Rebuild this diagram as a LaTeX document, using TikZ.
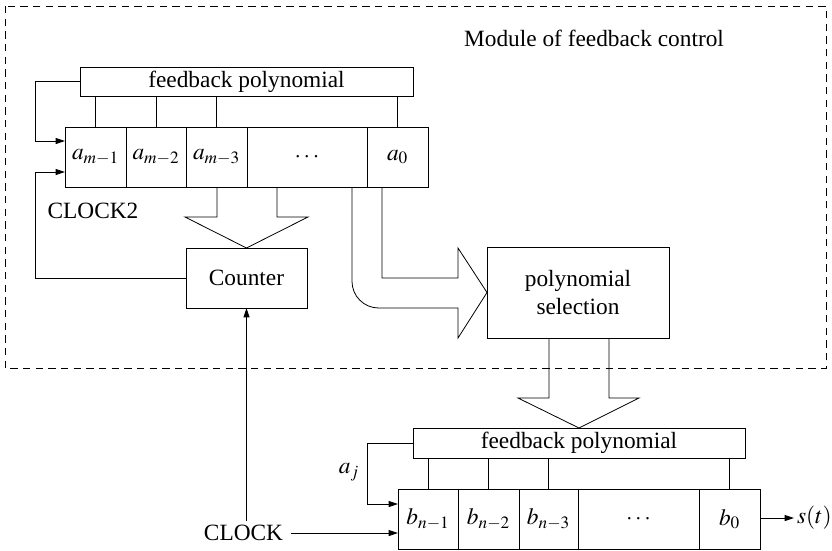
\documentclass[tikz,border=0pt]{standalone}
\usepackage{mathptmx}
\usepackage[no-math]{fontspec}
\setmainfont{Liberation Serif}
\newfontfamily\labelface{Liberation Serif}
\usetikzlibrary{arrows.meta,calc}

\begin{document}
\begin{tikzpicture}[x=0.75pt,y=-0.75pt,
  line width=0.6pt,
  every node/.style={font=\labelface\fontsize{17.5}{20.5}\selectfont},
  box/.style={draw,rectangle,inner sep=0pt,outer sep=0pt},
  cell/.style={box,minimum height=45pt},
  arr/.style={-{Triangle[length=7pt,width=4.5pt]}},
  fat/.style={line join=miter},
  module/.style={draw,dash pattern=on 5.5pt off 4pt,line width=0.5pt}
]
\useasboundingbox (0,0) rectangle (832,550);

% feedback-control module frame
\draw[module] (5,6) rectangle (826,368);
\node (mtitle) at (594,38) {Module of feedback control};

% upper feedback polynomial and register a
\node[box,minimum width=249.75pt,minimum height=21.75pt] (poly) at (246.5,81.5) {feedback polynomial};
\node[cell,minimum width=45.75pt] (am1) at (95.5,157) {$a_{m-1}$};
\node[cell,minimum width=45pt]    (am2) at (156,157)  {$a_{m-2}$};
\node[cell,minimum width=45.75pt] (am3) at (216.5,157) {$a_{m-3}$};
\node[cell,minimum width=90pt]    (adt) at (307,157)  {$\cdots$};
\node[cell,minimum width=45.75pt] (a0)  at (397.5,157) {$a_0$};

\foreach \c in {am1,am2,am3,a0}
  \draw (\c.north) -- (\c.north |- poly.south);

\coordinate (lfb) at (35,0);
\draw[arr] (poly.west) -- (poly.west -| lfb) |- ($(am1.north west)+(0,14)$);

\node (clk2) at (93,211) {CLOCK2};

% counter
\node[box,minimum width=90.75pt,minimum height=45pt] (counter) at (246.5,278) {Counter};
\draw[arr] (counter.west) -- (counter.west -| lfb) |- ($(am1.south west)+(0,-15)$);

% wide arrow: register -> counter
\draw[fat] (217,187) -- (217,217) -- (185,217) -- (counter.north) -- (308,217) -- (277,217) -- (277,187);

% polynomial selection
\node[box,minimum width=136.5pt,minimum height=68.25pt,align=center] (sel) at (578,292.5) {polynomial\\selection};

% wide bent arrow: register -> selection
\draw[fat] (352,187) [rounded corners=20pt] -- (352,308) [sharp corners] -- (458,308) -- (458,338)
  -- (sel.west) -- (458,248) -- (458,278) -- (382,278) -- (382,187);

% wide arrow: selection -> lower polynomial
\node[box,minimum width=249pt,minimum height=22.5pt] (poly2) at (579,443) {feedback polynomial};
\draw[fat] (549,338) -- (549,398) -- (518,398) -- (poly2.north) -- (639,398) -- (609,398) -- (609,338);

% lower register b
\node[cell,minimum width=45pt]    (bn1) at (428,519)   {$b_{n-1}$};
\node[cell,minimum width=45.75pt] (bn2) at (488.5,519) {$b_{n-2}$};
\node[cell,minimum width=44.25pt] (bn3) at (548.5,519) {$b_{n-3}$};
\node[cell,minimum width=90.75pt] (bdt) at (638.5,519) {$\cdots$};
\node[cell,minimum width=45.75pt] (b0)  at (729.5,519) {$b_0$};

\foreach \c in {bn1,bn2,bn3,b0}
  \draw (\c.north) -- (\c.north |- poly2.south);

\coordinate (lfb2) at (367,0);
\draw[arr] (poly2.west) -- (poly2.west -| lfb2) |- ($(bn1.north west)+(0,15)$);
\node (aj) at (349,472) {$a_j$};

% clock inputs
\node[inner sep=1pt] (clk) at (243.5,533) {CLOCK};
\draw[arr] (clk.east) ++(6,0) coordinate (clke) -- (clke -| bn1.west);
\draw[arr] ($(clk.north -| counter.south)+(0,-2)$) -- (counter.south);

% output
\coordinate (outend) at (794,518);
\draw[arr] (b0.east |- outend) -- (outend);
\node[anchor=west,inner sep=2pt] (st) at (outend) {$s(t)$};
\end{tikzpicture}
\end{document}
